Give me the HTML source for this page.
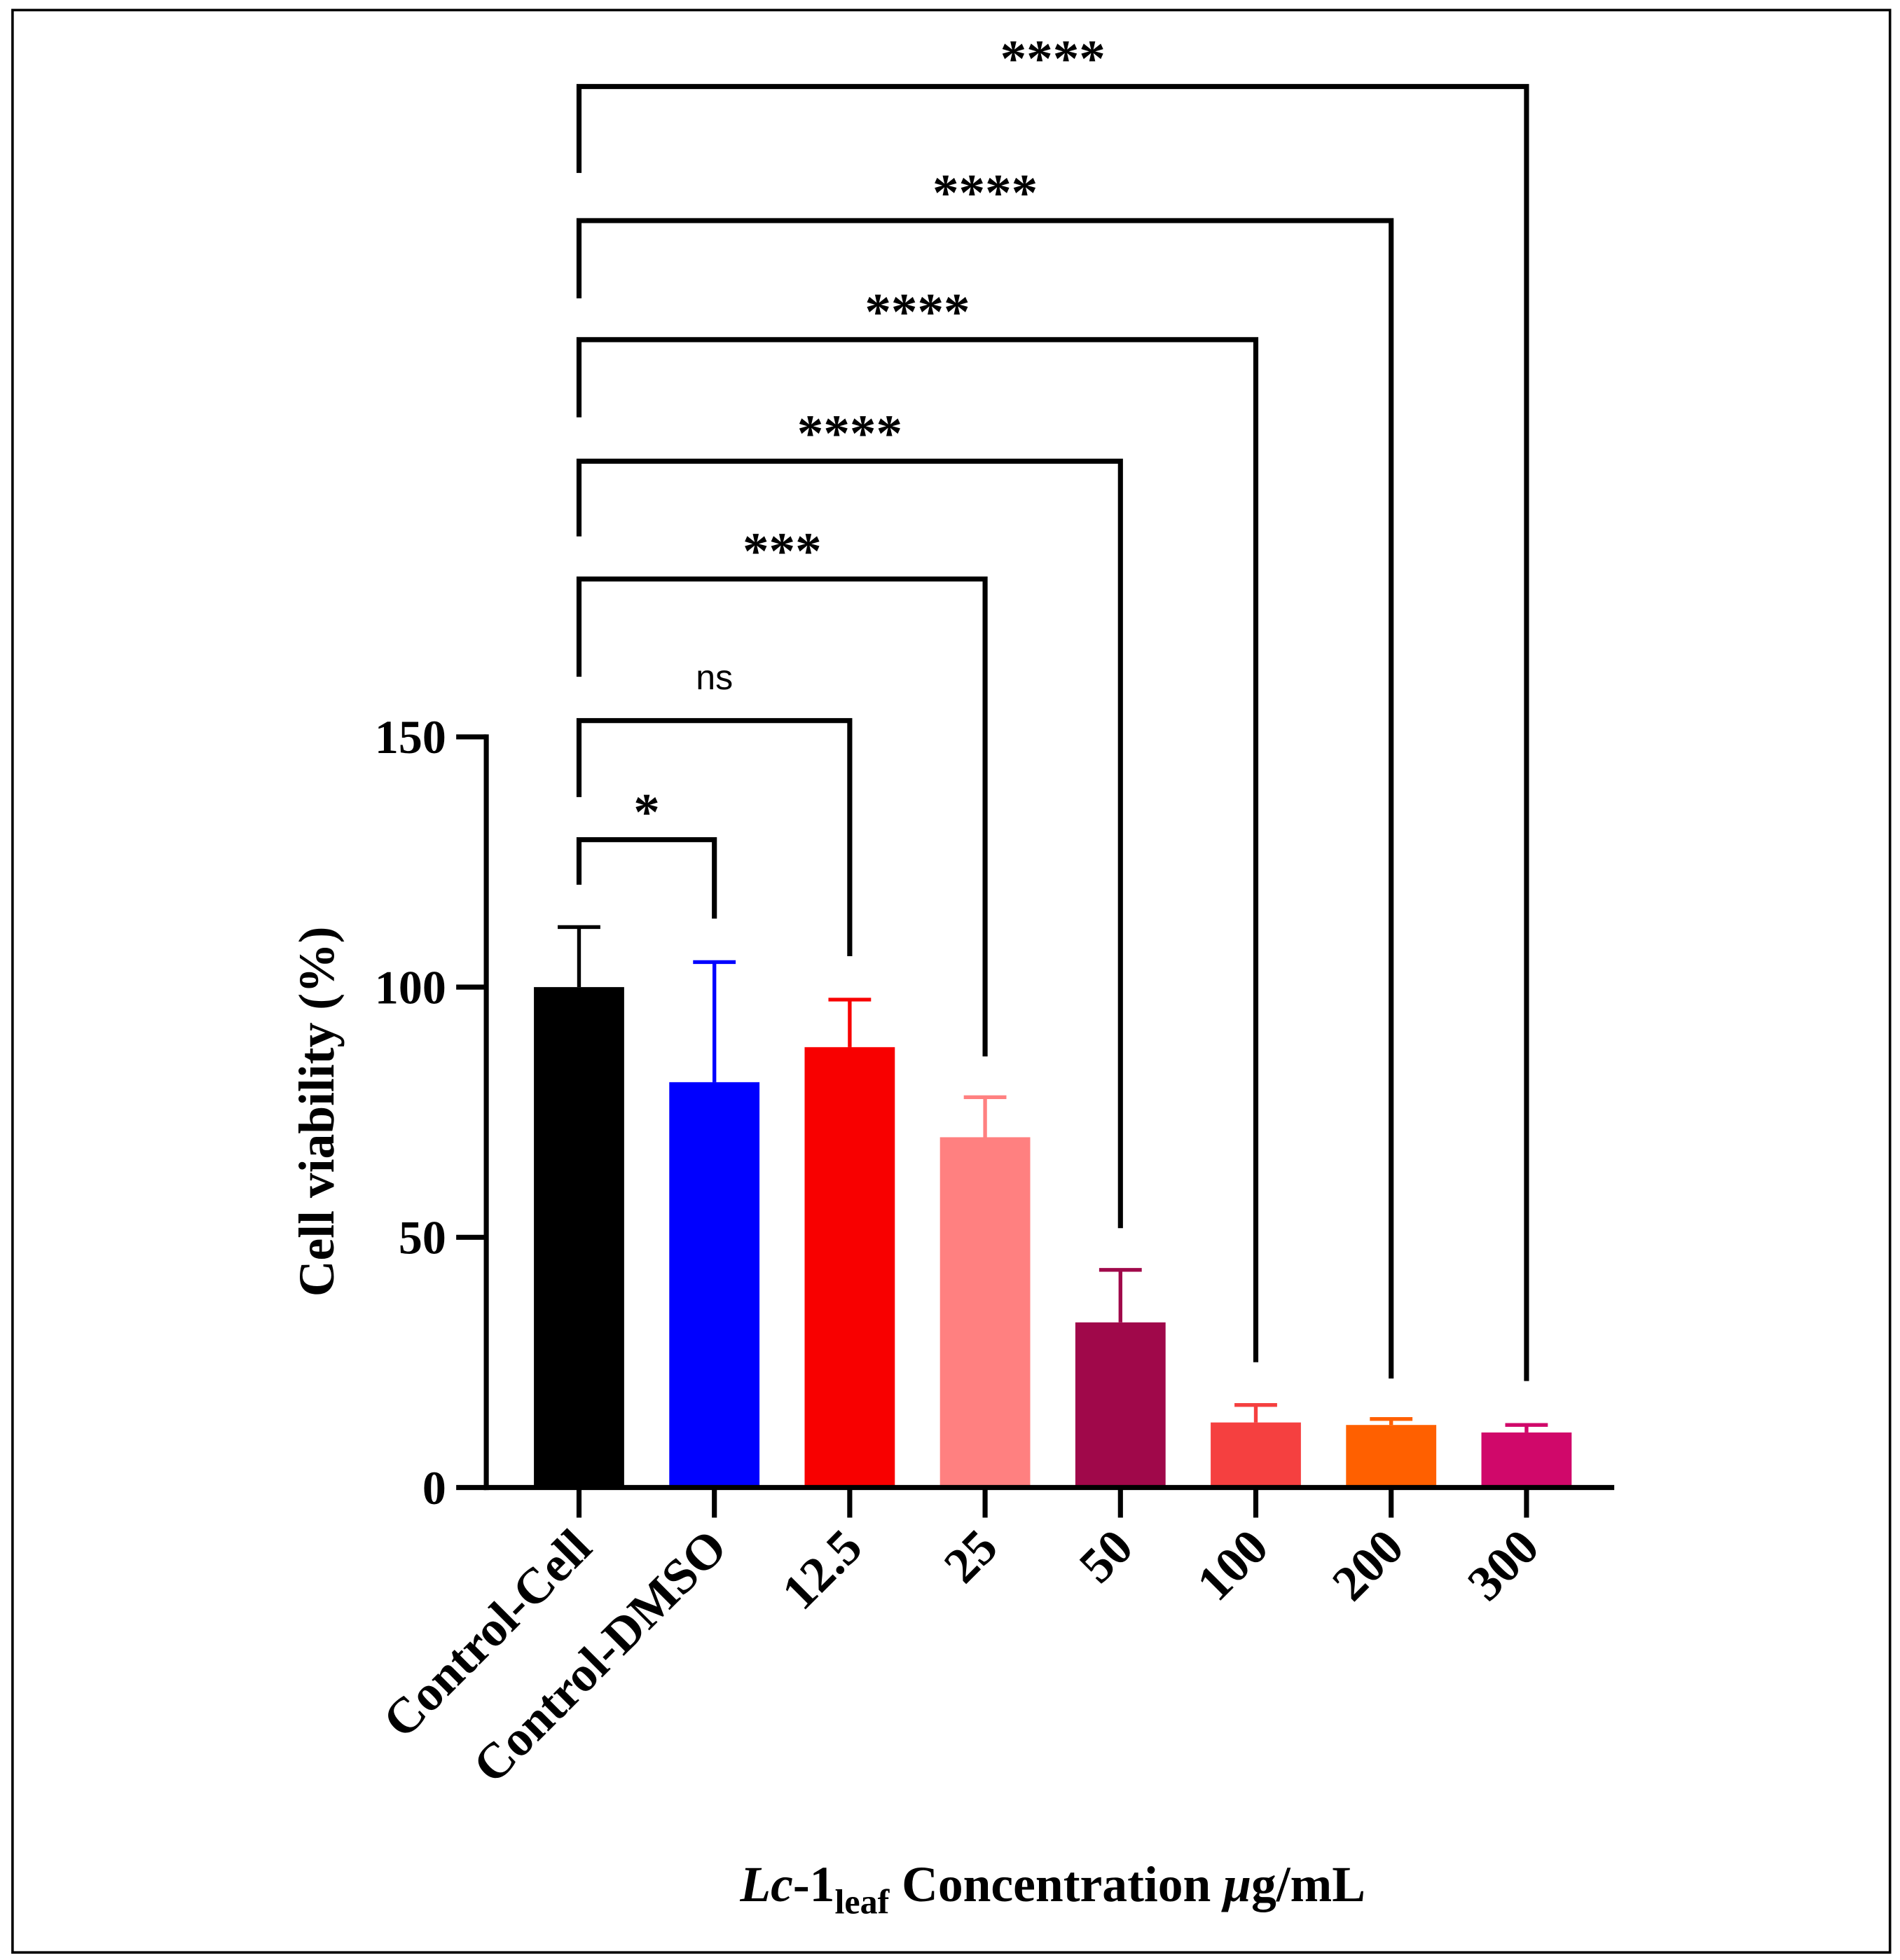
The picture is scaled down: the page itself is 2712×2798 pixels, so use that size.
<!DOCTYPE html>
<html><head><meta charset="utf-8"><style>
html,body{margin:0;padding:0;background:#fff}
svg{display:block}
text{font-family:"Liberation Serif",serif;font-weight:bold;fill:#000}
</style></head><body>
<svg id="chart" width="2712" height="2798" viewBox="0 0 1516 1564" xmlns="http://www.w3.org/2000/svg">
<rect x="10" y="8" width="1498" height="1550" fill="#fff" stroke="#000" stroke-width="2"/>
<g id="plot"></g>
<text transform="translate(266,887) rotate(-90)" text-anchor="middle" font-size="40">Cell viability (%)</text>
<text x="840" y="1517" text-anchor="middle" font-size="40"><tspan font-style="italic">Lc</tspan>-1<tspan font-size="28" dy="10">leaf</tspan><tspan dy="-10"> Concentration </tspan><tspan font-style="italic">μ</tspan>g/mL</text>
</svg>
<script>
const categories = ["Control-Cell","Control-DMSO","12.5","25","50","100","200","300"];
const means = [100,81,88,70,33,13,12.5,11];
const errors = [12,24,9.5,8,10.5,3.5,1.2,1.5];
const colors = ["#000000","#0000ff","#f80000","#ff8080","#a0084a","#f54040","#ff6000","#d0086a"];
const yTicks = [0,50,100,150];
const sigLabels = ["*","ns","***","****","****","****","****"];
const sigTargets = [1,2,3,4,5,6,7];

const NS="http://www.w3.org/2000/svg";
const g=document.getElementById('plot');
const x0=388,x1=1288,yBase=1187,yTop=588,yMax=150;
const bandStart=408,band=108,barW=72;
function yS(v){return yBase-(v/yMax)*(yBase-yTop);}
function xS(i){return bandStart+band*i+band/2;}
function el(tag,attrs,parent){const e=document.createElementNS(NS,tag);for(const k in attrs)e.setAttribute(k,attrs[k]);(parent||g).appendChild(e);return e;}

categories.forEach((c,i)=>{
  const cx=xS(i),top=yS(means[i]),et=yS(means[i]+errors[i]);
  const eb=el('line',{x1:cx,x2:cx,y1:top,y2:et,stroke:colors[i],'stroke-width':3});
  
  
  const cap=el('line',{x1:cx-17,x2:cx+17,y1:et,y2:et,stroke:colors[i],'stroke-width':3});
  
  
  const r=el('rect',{x:cx-barW/2,y:top,width:barW,height:yBase-top,fill:colors[i]});
  
  
  const tk=el('line',{x1:cx,x2:cx,y1:yBase,y2:yBase+24,stroke:'#000','stroke-width':4});
  
  
  const t=el('text',{x:cx+12,y:yBase+50,'text-anchor':'end','font-size':40,transform:`rotate(-45 ${cx+12} ${yBase+50})`});
  t.textContent=c;
  
  
});
const ya=el('line',{x1:x0,x2:x0,y1:yTop-2,y2:yBase+2,stroke:'#000','stroke-width':4});


const xa=el('line',{x1:x0-2,x2:x1,y1:yBase,y2:yBase,stroke:'#000','stroke-width':4});


yTicks.forEach(v=>{
  const y=yS(v);
  const l=el('line',{x1:x0-24,x2:x0,y1:y,y2:y,stroke:'#000','stroke-width':4});
  
  
  const t=el('text',{x:x0-32,y:y+13,'text-anchor':'end','font-size':38});
  t.textContent=v;
  
  
});
const tops=[670,575,462,368,271,176,69];
const leftBottoms=[706,636,540,428,333,238,138];
const rightBottoms=[733,763,843,980,1087,1100,1102];
sigTargets.forEach((j,k)=>{
  const xa_=xS(0),xb=xS(j),yt=tops[k];
  const p=el('path',{d:`M${xa_},${leftBottoms[k]}V${yt}H${xb}V${rightBottoms[k]}`,fill:'none',stroke:'#000','stroke-width':4});
  
  
  const ns=sigLabels[k]==='ns';
  const t=el('text',{x:(xa_+xb)/2,y:ns?yt-25:yt-8,'text-anchor':'middle','font-size':ns?28:42});
  if(ns){t.setAttribute('style','font-family:"Liberation Sans",sans-serif;font-weight:normal');}
  t.textContent=sigLabels[k];
  
  
});
</script>
</body></html>
